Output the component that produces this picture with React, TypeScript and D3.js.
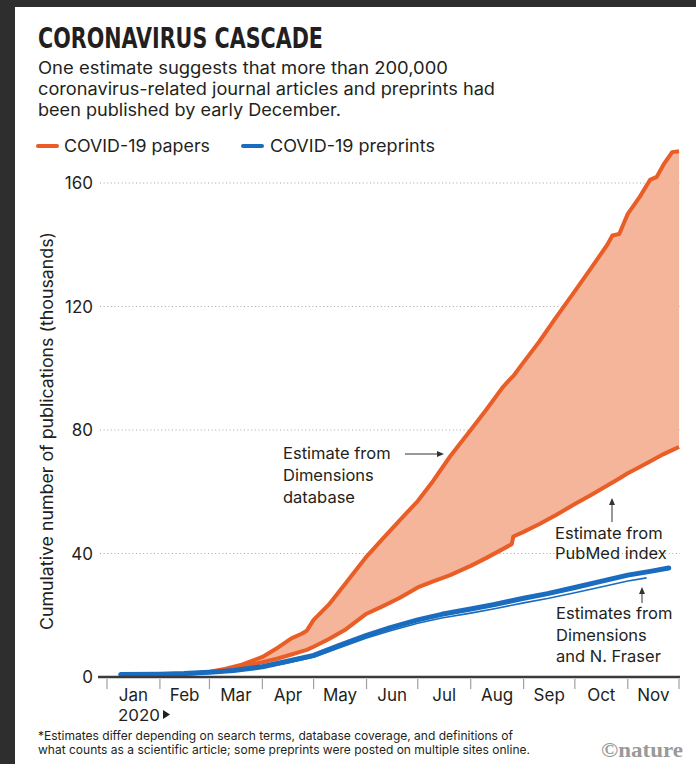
import React from "react";
import * as d3 from "d3";

// cumulative publications, thousands
const paperDates = [
  "2020-01-10", "2020-02-01", "2020-02-15", "2020-03-01", "2020-03-10", "2020-03-20",
  "2020-04-01", "2020-04-10", "2020-04-18", "2020-04-24", "2020-04-27", "2020-05-01",
  "2020-05-10", "2020-05-20", "2020-06-01", "2020-06-10", "2020-06-20", "2020-07-01",
  "2020-07-10", "2020-07-20", "2020-08-01", "2020-08-10", "2020-08-20", "2020-08-25",
  "2020-08-26", "2020-09-01", "2020-09-10", "2020-09-20", "2020-10-01", "2020-10-10",
  "2020-10-20", "2020-10-23", "2020-10-27", "2020-11-01", "2020-11-08", "2020-11-14",
  "2020-11-18", "2020-11-22", "2020-11-27", "2020-12-01",
];
const dimensionsPapers = [
  0.6, 0.7, 0.9, 1.7, 2.6, 4.0, 6.5, 9.5, 12.5, 14.0, 15.0, 18.5, 23.5, 30.5, 39, 44.5,
  50.5, 57, 63.5, 71.5, 80, 86.5, 94, 97, 97.5, 102, 108.5, 116.5, 125, 132, 140, 143,
  143.5, 150, 155.5, 161, 162, 166, 170, 170.3,
];
const pubmedPapers = [
  0.6, 0.7, 0.9, 1.6, 2.3, 3.3, 4.8, 6.0, 7.3, 8.3, 8.8, 9.8, 12.3, 15.5, 20.5, 22.8,
  25.5, 29, 31, 33, 36, 38.5, 41.5, 43, 45.5, 47, 49.5, 52.5, 56, 58.8, 62, 63, 64.3,
  66, 68, 69.8, 71, 72.2, 73.5, 74.5,
];
const preprintDates = [
  "2020-01-09", "2020-02-01", "2020-02-15", "2020-03-01", "2020-03-15", "2020-04-01",
  "2020-04-15", "2020-05-01", "2020-05-15", "2020-06-01", "2020-06-15", "2020-07-01",
  "2020-07-15", "2020-08-01", "2020-08-15", "2020-09-01", "2020-09-15", "2020-10-01",
  "2020-10-15", "2020-11-01", "2020-11-15", "2020-11-25",
];
const dimensionsPreprints = [
  0.8, 0.9, 1.1, 1.5, 2.1, 3.3, 5.0, 7.0, 10.0, 13.5, 16.0, 18.5, 20.3, 22.0, 23.5, 25.5,
  27.0, 29.0, 30.8, 33.0, 34.3, 35.3,
];
const fraserDates = [
  "2020-01-09", "2020-02-01", "2020-02-15", "2020-03-01", "2020-03-15", "2020-04-01",
  "2020-04-15", "2020-05-01", "2020-05-15", "2020-06-01", "2020-06-15", "2020-07-01",
  "2020-07-15", "2020-08-01", "2020-08-15", "2020-09-01", "2020-09-15", "2020-10-01",
  "2020-10-15", "2020-11-01", "2020-11-12",
];
const fraserPreprints = [
  0.8, 0.9, 1.1, 1.4, 1.9, 3.0, 4.5, 6.4, 9.2, 12.6, 15.0, 17.4, 19.1, 20.7, 22.1, 24.0,
  25.4, 27.3, 29.0, 31.1, 32.1,
];
const monthLabels = ["Jan", "Feb", "Mar", "Apr", "May", "Jun", "Jul", "Aug", "Sep", "Oct", "Nov"];
const yTicks = [0, 40, 80, 120, 160];

const ORANGE = "#e95d27";
const FILL = "#f4b59a";
const BLUE = "#1a6cbf";
const INK = "#231f20";
const SANS = "Inter, 'Open Sans', sans-serif";

export default function App() {
  const W = 696;
  const H = 764;
  const parse = d3.timeParse("%Y-%m-%d");

  const x = d3.scaleTime().domain([new Date(2020, 0, 1), new Date(2020, 11, 1)]).range([107, 679]);
  const y = d3.scaleLinear().domain([0, 160]).range([677, 183]);

  const papers = paperDates.map((d, i) => ({
    date: parse(d) as Date,
    top: dimensionsPapers[i],
    low: pubmedPapers[i],
  }));
  const pre = preprintDates.map((d, i) => ({ date: parse(d) as Date, v: dimensionsPreprints[i] }));
  const fra = fraserDates.map((d, i) => ({ date: parse(d) as Date, v: fraserPreprints[i] }));

  const area = d3
    .area<any>()
    .x((d) => x(d.date))
    .y0((d) => y(d.low))
    .y1((d) => y(d.top));
  const lineTop = d3.line<any>().x((d) => x(d.date)).y((d) => y(d.top));
  const lineLow = d3.line<any>().x((d) => x(d.date)).y((d) => y(d.low));
  const lineV = d3.line<any>().x((d) => x(d.date)).y((d) => y(d.v));

  const monthTicks = d3.timeMonth.range(new Date(2020, 0, 1), new Date(2020, 11, 2));

  return (
    <svg width={W} height={H} style={{ position: "absolute", left: 0, top: 0 }} fontFamily={SANS}>
      <rect x={0} y={0} width={W} height={H} fill="#2e2e2e" />
      <rect x={15} y={7} width={W - 15} height={H - 7} fill="#fff" />

      {/* title block */}
      <text
        x={38}
        y={48}
        fontFamily="'Liberation Sans Narrow', 'DejaVu Sans Condensed', sans-serif"
        fontWeight={700}
        fontSize={29}
        textLength={285}
        lengthAdjust="spacingAndGlyphs"
        fill={INK}
      >
        CORONAVIRUS CASCADE
      </text>
      <g fontSize={17} fill={INK}>
        <text x={38} y={74} textLength={410} lengthAdjust="spacingAndGlyphs">
          One estimate suggests that more than 200,000
        </text>
        <text x={38} y={95} textLength={457} lengthAdjust="spacingAndGlyphs">
          coronavirus-related journal articles and preprints had
        </text>
        <text x={38} y={116} textLength={303} lengthAdjust="spacingAndGlyphs">
          been published by early December.
        </text>
      </g>

      {/* legend */}
      <line x1={38} x2={57} y1={146} y2={146} stroke={ORANGE} strokeWidth={4} strokeLinecap="round" />
      <text x={64} y={152} fontSize={17} fill={INK} textLength={146} lengthAdjust="spacingAndGlyphs">
        COVID-19 papers
      </text>
      <line x1={243} x2={262} y1={146} y2={146} stroke={BLUE} strokeWidth={4} strokeLinecap="round" />
      <text x={270} y={152} fontSize={17} fill={INK} textLength={165} lengthAdjust="spacingAndGlyphs">
        COVID-19 preprints
      </text>

      {/* y grid + labels */}
      {yTicks.map((t) => (
        <g key={t}>
          {t > 0 && (
            <line
              x1={100}
              x2={680}
              y1={y(t)}
              y2={y(t)}
              stroke="#a5a5a5"
              strokeWidth={1}
              strokeDasharray="1,2.6"
            />
          )}
          <text x={93} y={y(t) + 6} textAnchor="end" fontSize={17} fill={INK}>
            {t}
          </text>
        </g>
      ))}
      <text
        transform={`translate(53,431) rotate(-90)`}
        textAnchor="middle"
        fontSize={17}
        fill={INK}
        textLength={398}
        lengthAdjust="spacingAndGlyphs"
      >
        Cumulative number of publications (thousands)
      </text>

      {/* data */}
      <path d={area(papers) ?? ""} fill={FILL} />
      <path d={lineTop(papers) ?? ""} fill="none" stroke={ORANGE} strokeWidth={4} strokeLinejoin="round" />
      <path d={lineLow(papers) ?? ""} fill="none" stroke={ORANGE} strokeWidth={4} strokeLinejoin="round" />
      <path d={lineV(fra) ?? ""} fill="none" stroke="#fff" strokeWidth={4} strokeLinejoin="round" />
      <path d={lineV(fra) ?? ""} fill="none" stroke={BLUE} strokeWidth={1.6} strokeLinejoin="round" />
      <path
        d={lineV(pre) ?? ""}
        fill="none"
        stroke={BLUE}
        strokeWidth={5}
        strokeLinejoin="round"
        strokeLinecap="round"
      />

      {/* x axis */}
      <line x1={98} x2={680} y1={677} y2={677} stroke="#3a3a3a" strokeWidth={2.5} />
      {monthTicks.map((d, i) => (
        <line key={i} x1={x(d)} x2={x(d)} y1={679} y2={689} stroke="#a0a0a0" strokeWidth={1.2} />
      ))}
      {monthLabels.map((m, i) => {
        const a = x(monthTicks[i]);
        const b = x(monthTicks[i + 1]);
        return (
          <text key={m} x={(a + b) / 2} y={701} textAnchor="middle" fontSize={17} fill={INK}>
            {m}
          </text>
        );
      })}
      <text x={118} y={721} fontSize={16.5} fill={INK} textLength={42} lengthAdjust="spacingAndGlyphs">
        2020
      </text>
      <path d="M163,710 L170,714.5 L163,719 Z" fill={INK} />

      {/* annotations */}
      <g fontSize={16.5} fill={INK}>
        <text x={283} y={459}>Estimate from</text>
        <text x={283} y={481}>Dimensions</text>
        <text x={283} y={503}>database</text>
        <text x={555} y={539}>Estimate from</text>
        <text x={555} y={559}>PubMed index</text>
        <text x={556} y={619}>Estimates from</text>
        <text x={556} y={641}>Dimensions</text>
        <text x={556} y={662}>and N. Fraser</text>
      </g>
      <g stroke="#333" strokeWidth={1}>
        <line x1={405} x2={438} y1={454} y2={454} />
        <line x1={612} x2={612} y1={522} y2={504} />
        <line x1={642} x2={642} y1={603} y2={593} />
      </g>
      <g fill="#333">
        <path d="M444,454 L437,451 L437,457 Z" />
        <path d="M612,498 L609,505 L615,505 Z" />
        <path d="M642,587 L639,594 L645,594 Z" />
      </g>

      {/* footnote */}
      <g fontSize={12} fill={INK}>
        <text x={38} y={740} textLength={475} lengthAdjust="spacingAndGlyphs">
          *Estimates differ depending on search terms, database coverage, and definitions of
        </text>
        <text x={38} y={754} textLength={492} lengthAdjust="spacingAndGlyphs">
          what counts as a scientific article; some preprints were posted on multiple sites online.
        </text>
      </g>
      <text
        x={601}
        y={757}
        fontFamily="'Liberation Serif', 'DejaVu Serif', serif"
        fontWeight={700}
        fontSize={22}
        fill="#9a9a9a"
        textLength={82}
        lengthAdjust="spacingAndGlyphs"
      >
        ©nature
      </text>
    </svg>
  );
}
